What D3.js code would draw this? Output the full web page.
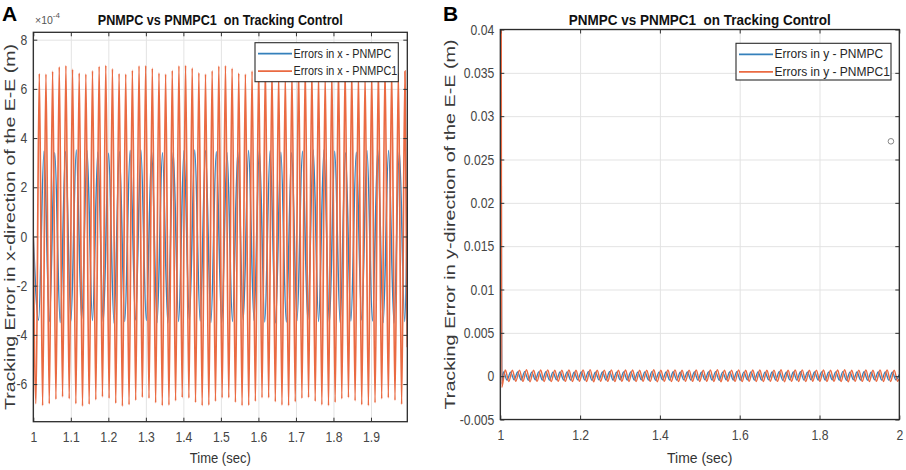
<!DOCTYPE html>
<html>
<head>
<meta charset="utf-8">
<script src="https://cdn.jsdelivr.net/npm/d3@7"></script>
<style>
  body { margin: 0; background: #fff; }
  svg text { font-family: "Liberation Sans", Arial, sans-serif; }
</style>
</head>
<body>
<svg id="chart" width="906" height="470"></svg>
<script>
// ---- panel A : errors in x (values in units of 1e-4 m) ----
var xTicksA = [1, 1.1, 1.2, 1.3, 1.4, 1.5, 1.6, 1.7, 1.8, 1.9];
var yTicksA = [-6, -4, -2, 0, 2, 4, 6, 8];

// PNMPC1 (orange): successive crest and trough heights
var orangePeaksA = [6.62,6.60,6.72,6.90,6.95,6.80, 6.64,6.60,6.74,6.92,6.96,6.82,
                    6.62,6.60,6.76,6.94,6.95,6.84, 6.65,6.60,6.75,6.94,6.96,6.85,
                    6.66,6.60,6.74,6.93,6.95,6.84, 6.64,6.60,6.73,6.92,6.96,6.82,
                    6.63,6.60,6.74,6.93,6.95,6.83, 6.64,6.60,6.75,6.94,6.96,6.84,
                    6.65,6.61,6.74,6.93,6.95,6.83, 6.66,6.72];
var orangeTroughsA = [-6.80,-6.88,-6.80,-6.62,-6.52,-6.60, -6.80,-6.90,-6.82,-6.64,-6.52,-6.58,
                      -6.78,-6.90,-6.84,-6.66,-6.54,-6.58, -6.76,-6.88,-6.86,-6.68,-6.55,-6.57,
                      -6.75,-6.88,-6.86,-6.70,-6.56,-6.56, -6.74,-6.88,-6.87,-6.70,-6.56,-6.56,
                      -6.72,-6.86,-6.88,-6.72,-6.58,-6.55, -6.70,-6.85,-6.88,-6.74,-6.60,-6.55,
                      -6.68,-6.84,-6.88,-6.76,-6.60,-6.56, -6.66,-6.82];
var orangeHeadA = [[1, 0]];
var orangeTailA = [[1.9968, -4.5]];

// PNMPC (blue)
var bluePeaksA = [3.46,3.40,3.45,3.52,3.48,3.42,3.38,3.44,3.50,3.52,
                  3.46,3.40,3.42,3.48,3.52,3.50,3.44,3.40,3.44,3.50,
                  3.53,3.48,3.42,3.40,3.46,3.52,3.52,3.46,3.40,3.42,
                  3.48,3.53,3.50,3.46];
var blueTroughsA = [-3.40,-3.46,-3.50,-3.44,-3.38,-3.42,-3.48,-3.52,-3.46,-3.40,
                    -3.42,-3.50,-3.52,-3.46,-3.40,-3.44,-3.50,-3.52,-3.46,-3.40,
                    -3.42,-3.48,-3.52,-3.48,-3.42,-3.40,-3.46,-3.52,-3.50,-3.44,
                    -3.40,-3.44,-3.50,-3.52,-3.46];
var blueHeadA = [[1, 0]];
var blueTailA = [[1.9968, 1.2]];

// ---- panel B : errors in y (values in units of 1e-4 m) ----
var xTicksB = [1, 1.2, 1.4, 1.6, 1.8, 2];
var yTicksB = [-0.005, 0, 0.005, 0.01, 0.015, 0.02, 0.025, 0.03, 0.035, 0.04];

var orangePeaksB = [7.2,6.8,7.0,7.4,6.9,7.1,7.3,6.8,7.0,7.2,
                    6.9,7.1,7.4,6.8,7.0,7.3,6.9,7.1,7.2,6.8,
                    7.0,7.4,6.9,7.1,7.3,6.8,7.0,7.2,6.9,7.1,
                    7.4,6.8,7.0,7.3,6.9,7.1,7.2,6.8,7.0,7.4,
                    6.9,7.1,7.3,6.8,7.0,7.2,6.9,7.1,7.4,6.8,
                    7.0,7.3,6.9,7.1,7.2,6.8];
var orangeTroughsB = [-13,
                      -6.2,-5.8,-6.0,-6.4,-5.9,-6.1,-6.3,-5.8,-6.0,-6.2,
                      -5.9,-6.1,-6.4,-5.8,-6.0,-6.3,-5.9,-6.1,-6.2,-5.8,
                      -6.0,-6.4,-5.9,-6.1,-6.3,-5.8,-6.0,-6.2,-5.9,-6.1,
                      -6.4,-5.8,-6.0,-6.3,-5.9,-6.1,-6.2,-5.8,-6.0,-6.4,
                      -5.9,-6.1,-6.3,-5.8,-6.0,-6.2,-5.9,-6.1,-6.4,-5.8,
                      -6.0,-6.3,-5.9,-6.1,-6.2,-5.8];
var orangeHeadB = [[1.0025, 400]];
var orangeTailB = [[2, -3]];

var bluePeaksB = [5.0,4.6,4.8,5.2,4.7,4.9,5.1,4.6,4.8,5.0,
                  4.7,4.9,5.2,4.6,4.8,5.1,4.7,4.9,5.0,4.6,
                  4.8,5.2,4.7,4.9,5.1,4.6,4.8,5.0,4.7,4.9,
                  5.2,4.6,4.8,5.1,4.7,4.9,5.0,4.6,4.8,5.2,
                  4.7,4.9,5.1,4.6,4.8,5.0,4.7,4.9,5.2,4.6,
                  4.8,5.1,4.7,4.9,5.0,4.6];
var blueTroughsB = [-4.5,-4.2,-4.4,-4.7,-4.3,-4.5,-4.6,-4.2,-4.4,-4.5,
                    -4.3,-4.5,-4.7,-4.2,-4.4,-4.6,-4.3,-4.5,-4.5,-4.2,
                    -4.4,-4.7,-4.3,-4.5,-4.6,-4.2,-4.4,-4.5,-4.3,-4.5,
                    -4.7,-4.2,-4.4,-4.6,-4.3,-4.5,-4.5,-4.2,-4.4,-4.7,
                    -4.3,-4.5,-4.6,-4.2,-4.4,-4.5,-4.3,-4.5,-4.7,-4.2,
                    -4.4,-4.6,-4.3,-4.5,-4.5,-4.2];
var blueHeadB = [[1.0022, 400], [1.0040, -9]];
var blueTailB = [[2, 2]];
var strayB = [[1.979, 271]];

var blueColor = '#3580bb',
    orangeColor = '#ea6a42';

var svg = d3.select('#chart');

// merge crest and trough readings into one time ordered list
function makeSeries(head, peaks, peakStart, troughs, troughStart, period, tail){
  var pts = head.slice();
  peaks.forEach(function(v, i){ pts.push([peakStart + i * period, v]); });
  troughs.forEach(function(v, i){ pts.push([troughStart + i * period, v]); });
  pts = pts.concat(tail);
  pts.sort(function(a, b){ return a[0] - b[0]; });
  return pts;
}

function drawPanel(p){
  var x = p.x, y = p.y;
  var left = x.range()[0], right = x.range()[1],
      top = y.range()[1], bottom = y.range()[0];
  var g = svg.append('g');

  // grid
  var gx = g.append('g').attr('transform', 'translate(0,' + bottom + ')')
    .call(d3.axisBottom(x).tickValues(p.xTicks).tickSize(-(bottom - top)).tickFormat(''));
  var gy = g.append('g').attr('transform', 'translate(' + left + ',0)')
    .call(d3.axisLeft(y).tickValues(p.yTicks).tickSize(-(right - left)).tickFormat(''));
  [gx, gy].forEach(function(s){
    s.select('.domain').remove();
    s.selectAll('line').attr('stroke', '#e3e3e3').attr('stroke-width', 1);
  });

  g.append('clipPath').attr('id', p.id + '-clip')
    .append('rect').attr('x', left).attr('y', top)
    .attr('width', right - left).attr('height', bottom - top);

  var line = d3.line()
    .x(function(d){ return x(d[0]); })
    .y(function(d){ return y(d[1] * p.unit); })
    .curve(d3.curveMonotoneX);

  var plot = g.append('g').attr('clip-path', 'url(#' + p.id + '-clip)');
  p.series.forEach(function(s){
    plot.append('path').datum(s.data)
      .attr('fill', 'none')
      .attr('stroke', s.color)
      .attr('stroke-width', s.width)
      .attr('d', line);
  });

  if (p.stray) {
    plot.selectAll('circle.stray').data(p.stray).enter().append('circle')
      .attr('cx', function(d){ return x(d[0]); })
      .attr('cy', function(d){ return y(d[1] * p.unit); })
      .attr('r', 2.8).attr('fill', 'none').attr('stroke', '#888').attr('stroke-width', 1);
  }

  // axes with inward ticks on all four sides
  var axB = g.append('g').attr('transform', 'translate(0,' + bottom + ')')
    .call(d3.axisBottom(x).tickValues(p.xTicks).tickSize(-4).tickPadding(10).tickFormat(p.xFormat));
  var axT = g.append('g').attr('transform', 'translate(0,' + top + ')')
    .call(d3.axisTop(x).tickValues(p.xTicks).tickSize(-4).tickFormat(''));
  var axL = g.append('g').attr('transform', 'translate(' + left + ',0)')
    .call(d3.axisLeft(y).tickValues(p.yTicks).tickSize(-4).tickPadding(6).tickFormat(p.yFormat));
  var axR = g.append('g').attr('transform', 'translate(' + right + ',0)')
    .call(d3.axisRight(y).tickValues(p.yTicks).tickSize(-4).tickFormat(''));
  [axB, axT, axL, axR].forEach(function(a){
    a.select('.domain').remove();
    a.selectAll('line').attr('stroke', '#333');
    a.selectAll('text').attr('font-size', 14.5).attr('fill', '#454545')
      .attr('font-family', '"Liberation Sans", Arial, sans-serif')
      .attr('data-squeeze', 0.84);
  });

  g.append('rect').attr('x', left).attr('y', top)
    .attr('width', right - left).attr('height', bottom - top)
    .attr('fill', 'none').attr('stroke', '#2b2b2b').attr('stroke-width', 1.3);

  // titles and labels
  g.append('text').attr('x', (left + right) / 2).attr('y', 25)
    .attr('text-anchor', 'middle').attr('font-size', 15).attr('font-weight', 'bold')
    .attr('fill', '#111').attr('textLength', p.titleLength).attr('lengthAdjust', 'spacingAndGlyphs')
    .style('white-space', 'pre')
    .text('PNMPC vs PNMPC1  on Tracking Control');
  g.append('text').attr('x', (left + right) / 2).attr('y', 463)
    .attr('text-anchor', 'middle').attr('font-size', 15.5).attr('fill', '#333')
    .attr('data-squeeze', p.squeeze)
    .text('Time (sec)');
  g.append('text')
    .attr('transform', 'translate(' + p.yLabelX + ',' + ((top + bottom) / 2) + ') rotate(-90)')
    .attr('text-anchor', 'middle').attr('font-size', 14).attr('fill', '#3a3a3a')
    .attr('textLength', p.yLabelLength).attr('lengthAdjust', 'spacingAndGlyphs')
    .text(p.yLabel);
  g.append('text').attr('x', p.letterX).attr('y', 21)
    .attr('font-size', 21).attr('font-weight', 'bold').attr('fill', '#000')
    .text(p.letter);

  // legend
  var lg = g.append('g').attr('transform', 'translate(' + p.legend[0] + ',' + p.legend[1] + ')');
  lg.append('rect').attr('width', p.legend[2]).attr('height', p.legend[3])
    .attr('fill', '#fff').attr('stroke', '#2b2b2b').attr('stroke-width', 1.1);
  p.series.forEach(function(s, i){
    var ly = 11 + i * 17.5;
    lg.append('line').attr('x1', 3).attr('x2', 37).attr('y1', ly).attr('y2', ly)
      .attr('stroke', s.color).attr('stroke-width', 1.8);
    lg.append('text').attr('x', 38.5).attr('y', ly + 4.2).attr('font-size', 12)
      .attr('fill', '#262626').attr('data-squeeze', p.legendSqueeze).text(s.name);
  });
  return g;
}

var xA = d3.scaleLinear().domain([1, 1.9968]).range([33.3, 407.3]);
var yA = d3.scaleLinear().domain([-7.53, 8.3]).range([421.7, 32.3]);

var gA = drawPanel({
  id: 'pa', x: xA, y: yA, unit: 1,
  xTicks: xTicksA, yTicks: yTicksA,
  xFormat: function(d){ return String(d); },
  yFormat: function(d){ return String(d); },
  series: [
    { name: 'Errors in x - PNMPC', color: blueColor, width: 1.5,
      data: makeSeries(blueHeadA, bluePeaksA, 1.0285, blueTroughsA, 1.0142, 0.0287, blueTailA) },
    { name: 'Errors in x - PNMPC1', color: orangeColor, width: 1.7,
      data: makeSeries(orangeHeadA, orangePeaksA, 1.016, orangeTroughsA, 1.0071, 0.01772, orangeTailA) }
  ],
  titleLength: 245, yLabelX: 14.5, yLabelLength: 366,
  yLabel: 'Tracking Error in x-direction of the E-E (m)',
  letter: 'A', letterX: 2, squeeze: 0.84, legendSqueeze: 0.9,
  legend: [255, 42.7, 143.3, 39]
});

// exponent note of panel A (one text, superscript as tspan)
var expA = gA.append('text').attr('x', 35).attr('y', 23.5).attr('font-size', 10.5).attr('fill', '#555');
expA.append('tspan').text('\u00d710');
expA.append('tspan').attr('dy', -6).attr('font-size', 8).text('-4');

var xB = d3.scaleLinear().domain([1, 2]).range([500.3, 899.3]);
var yB = d3.scaleLinear().domain([-0.005, 0.04]).range([419.5, 29.5]);

drawPanel({
  id: 'pb', x: xB, y: yB, unit: 1e-4,
  xTicks: xTicksB, yTicks: yTicksB,
  xFormat: function(d){ return String(d); },
  yFormat: function(d){ return d === 0 ? '0' : String(+d.toFixed(3)); },
  series: [
    { name: 'Errors in y - PNMPC', color: blueColor, width: 1.3,
      data: makeSeries(blueHeadB, bluePeaksB, 1.0080, blueTroughsB, 1.0169, 0.01772, blueTailB) },
    { name: 'Errors in y - PNMPC1', color: orangeColor, width: 1.4,
      data: makeSeries(orangeHeadB, orangePeaksB, 1.0125, orangeTroughsB, 1.0036, 0.01772, orangeTailB) }
  ],
  stray: strayB,
  titleLength: 262, yLabelX: 455, yLabelLength: 370,
  yLabel: 'Tracking Error in y-direction of the E-E (m)',
  letter: 'B', letterX: 443, squeeze: 0.9, legendSqueeze: 1,
  legend: [736, 43.3, 155, 36.7]
});

// the source figure is horizontally condensed: squeeze the horizontal labels
svg.selectAll('text[data-squeeze]').each(function(){
  var k = +this.getAttribute('data-squeeze');
  var w = this.getComputedTextLength();
  if (w > 0 && k !== 1) d3.select(this).attr('textLength', w * k).attr('lengthAdjust', 'spacingAndGlyphs');
});
</script>
</body>
</html>
